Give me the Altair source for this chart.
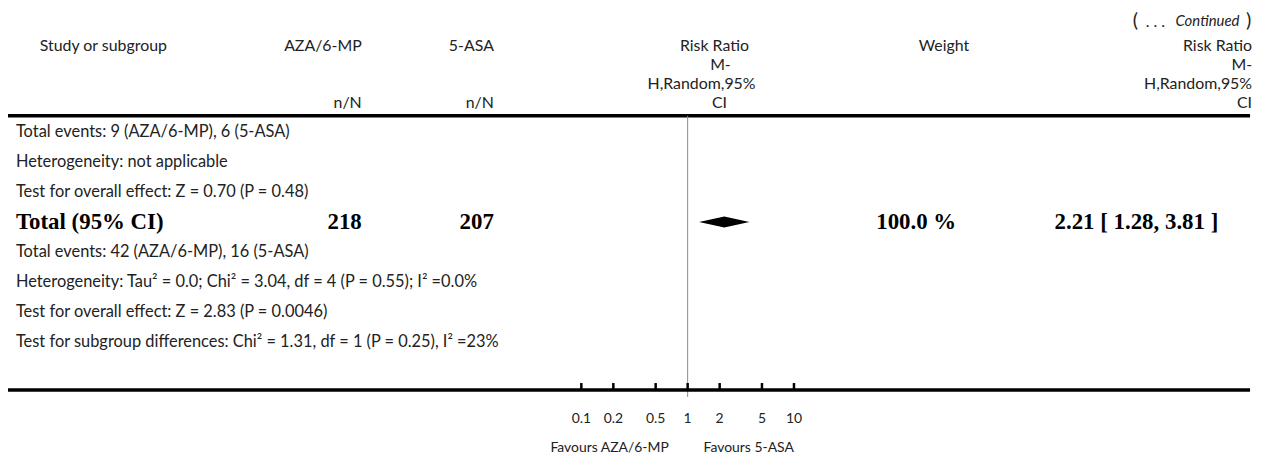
import altair as alt
import pandas as pd

# ---------------- data ----------------
continued_parts = ["(", ". . .", "Continued", ")"]
study_header = "Study or subgroup"
group_names = ["AZA/6-MP", "5-ASA"]
unit_label = "n/N"
rr_header = ["Risk Ratio", "M-", "H,Random,95%", "CI"]
weight_header = "Weight"

prev_lines = [
    "Total events: 9 (AZA/6-MP), 6 (5-ASA)",
    "Heterogeneity: not applicable",
    "Test for overall effect: Z = 0.70 (P = 0.48)",
]
total_label = "Total (95% CI)"
total_n = [218, 207]
total_rr = 2.21
total_lo = 1.28
total_hi = 3.81
total_weight = "100.0 %"
post_lines = [
    "Total events: 42 (AZA/6-MP), 16 (5-ASA)",
    "Heterogeneity: Tau\u00b2 = 0.0; Chi\u00b2 = 3.04, df = 4 (P = 0.55); I\u00b2 =0.0%",
    "Test for overall effect: Z = 2.83 (P = 0.0046)",
    "Test for subgroup differences: Chi\u00b2 = 1.31, df = 1 (P = 0.25), I\u00b2 =23%",
]
tick_values = [0.1, 0.2, 0.5, 1, 2, 5, 10]
tick_labels = ["0.1", "0.2", "0.5", "1", "2", "5", "10"]
favours = ["Favours AZA/6-MP", "Favours 5-ASA"]

# ---------------- layout ----------------
W, H = 1258, 450
OFF = 8  # page margin -> plot coords
LINE_END = 1258
SANS = "Lato"
SERIF = "Liberation Serif"
TXT = "#222222"
BODY = 16.5
HEAD = 16
BOLD = 23
AXF = 14

def px(v):
    return v - OFF

xscale = alt.Scale(type="log", domain=[0.1, 10], range=[px(585), px(799)])

def label(txt, x, y, align="left", size=BODY, font=SANS, weight="normal",
          style="normal", color=TXT):
    return alt.Chart(pd.DataFrame({"t": [txt]})).mark_text(
        align=align, baseline="middle", fontSize=size, font=font,
        fontWeight=weight, fontStyle=style, color=color
    ).encode(x=alt.value(px(x)), y=alt.value(px(y)), text="t:N")

def hline(y, width=3, color="black"):
    return alt.Chart(pd.DataFrame({"a": [0]})).mark_rule(
        color=color, strokeWidth=width
    ).encode(x=alt.value(0), x2=alt.value(px(LINE_END)), y=alt.value(px(y)))

layers = []

# top-right "(... Continued)"
layers.append(label(continued_parts[0], 1140, 20, size=20))
layers.append(label(continued_parts[1], 1153, 21, size=16))
layers.append(label(continued_parts[2], 1183, 20, size=15, style="italic"))
layers.append(label(continued_parts[3], 1254, 20, size=20))

# header
HY = [45, 64, 83, 102]
layers.append(label(study_header, 40, HY[0], size=HEAD))
layers.append(label(group_names[0], 364, HY[0], align="right", size=HEAD))
layers.append(label(group_names[1], 497, HY[0], align="right", size=HEAD))
layers.append(label(unit_label, 364, HY[3], align="right", size=HEAD))
layers.append(label(unit_label, 497, HY[3], align="right", size=HEAD))
center_x = [719, 725, 706, 724]
for i, t in enumerate(rr_header):
    layers.append(label(t, center_x[i], HY[i], align="center", size=HEAD))
for i, t in enumerate(rr_header):
    layers.append(label(t, 1260, HY[i], align="right", size=HEAD))
layers.append(label(weight_header, 950, HY[0], align="center", size=HEAD))

HDR_LINE = 115
layers.append(hline(HDR_LINE, 3.5))

# body rows
ROW0, STEP = 131, 30.3
rows_y = [ROW0 + i * STEP for i in range(8)]
for i, t in enumerate(prev_lines):
    layers.append(label(t, 16, rows_y[i]))
TY = rows_y[3]
layers.append(label(total_label, 16, TY, size=BOLD, font=SERIF, weight="bold", color="black"))
layers.append(label(str(total_n[0]), 364, TY, align="right", size=BOLD, font=SERIF, weight="bold", color="black"))
layers.append(label(str(total_n[1]), 497, TY, align="right", size=BOLD, font=SERIF, weight="bold", color="black"))
layers.append(label(total_weight, 922, TY, align="center", size=BOLD, font=SERIF, weight="bold", color="black"))
layers.append(label(f"{total_rr:.2f} [ {total_lo:.2f}, {total_hi:.2f} ]", 1226, TY,
                    align="right", size=BOLD, font=SERIF, weight="bold", color="black"))
for i, t in enumerate(post_lines):
    layers.append(label(t, 16, rows_y[4 + i]))

AXY = 391

# vertical line at RR = 1
layers.append(alt.Chart(pd.DataFrame({"v": [1]})).mark_rule(color="#888888", strokeWidth=1).encode(
    x=alt.X("v:Q", scale=xscale, axis=None), y=alt.value(px(HDR_LINE)), y2=alt.value(px(AXY + 7))))

# diamond
diamond = pd.DataFrame({"x": [total_lo, total_rr, total_hi],
                        "top": [0, 1, 0], "bot": [0, -1, 0]})
layers.append(alt.Chart(diamond).mark_area(color="black", interpolate="linear").encode(
    x=alt.X("x:Q", scale=xscale, axis=None),
    y=alt.Y("top:Q", scale=alt.Scale(domain=[-1, 1], range=[px(TY) + 5.5, px(TY) - 5.5]), axis=None),
    y2="bot:Q"))

# axis line
layers.append(hline(AXY, 3.5))

# ticks
ticks_df = pd.DataFrame({"v": tick_values, "lab": tick_labels})
layers.append(alt.Chart(ticks_df).mark_rule(color="black", strokeWidth=2.5).encode(
    x=alt.X("v:Q", scale=xscale, axis=None), y=alt.value(px(AXY - 7)), y2=alt.value(px(AXY))))
layers.append(alt.Chart(ticks_df).mark_text(
    align="center", baseline="middle", fontSize=AXF, font=SANS, color=TXT).encode(
    x=alt.X("v:Q", scale=xscale, axis=None), y=alt.value(px(420)), text="lab:N"))

layers.append(label(favours[0], 673, 449, align="right", size=AXF))
layers.append(label(favours[1], 708, 449, align="left", size=AXF))

chart = alt.layer(*layers).properties(
    width=W, height=H, padding=0, autosize="none", background="white"
).configure_view(stroke=None)

chart.save("out.html", embed_options={"renderer": "svg", "actions": False})
